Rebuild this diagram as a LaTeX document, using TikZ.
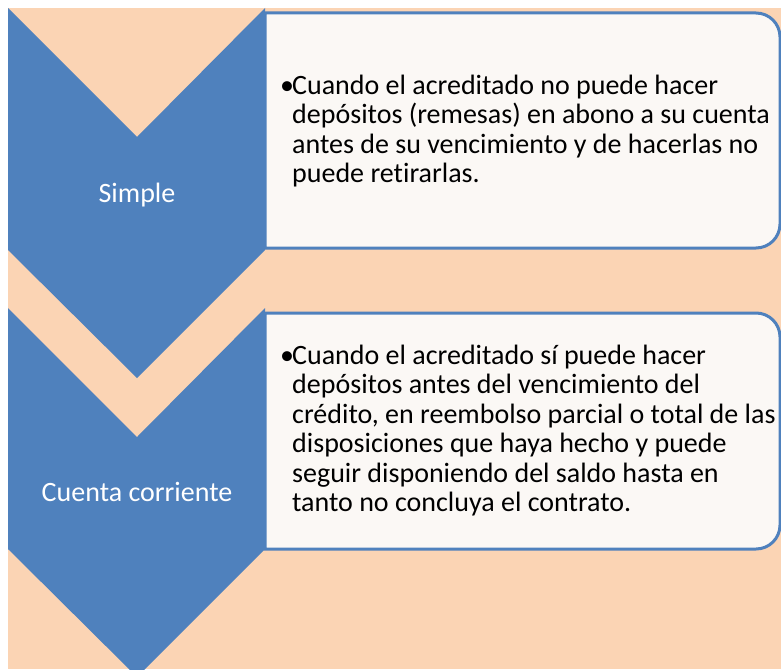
\documentclass[tikz,border=0pt]{standalone}
\usepackage{fontspec}
\setmainfont{Carlito}[Ligatures=NoCommon]
\usepackage{tikz}

\definecolor{chevblue}{HTML}{4F81BD}
\definecolor{peach}{HTML}{FBD4B4}
\definecolor{boxwhite}{HTML}{FBF8F5}

\tikzset{
	chevron/.style = {fill=chevblue},
	detailbox/.style = {fill=boxwhite, draw=chevblue, line width=3pt},
	chevlabel/.style = {text=white, font=\fontsize{28}{29.5}\selectfont, inner sep=0},
	detailtext/.style = {font=\fontsize{28}{29.5}\selectfont, align=left, inner sep=0, anchor=north west},
	bulletmark/.style = {font=\fontsize{28}{29.5}\selectfont, inner sep=0, anchor=base west}
}

\begin{document}
\begin{tikzpicture}[x=1pt,y=-1pt]
	\useasboundingbox (0,0) rectangle (781,669);
	\clip (0,0) rectangle (781,669);
	%peach background
	\fill[peach] (8,8) rectangle (781,669);
	
	%the first box
	\filldraw[detailbox] (265,13) -- (756,13) arc[start angle=-90,end angle=0,radius=24] -- (780,224) arc[start angle=0,end angle=90,radius=24] -- (265,248) -- cycle;
	
	%the second box
	\filldraw[detailbox] (265,313) -- (756,313) arc[start angle=-90,end angle=0,radius=24] -- (780,525) arc[start angle=0,end angle=90,radius=24] -- (265,549) -- cycle;
	
	%the chevrons
	\fill[chevron] (8,8) -- (137,137) -- (265,8) -- (265,250) -- (137,378) -- (8,250) -- cycle;
	\fill[chevron] (8,308) -- (137,437) -- (265,308) -- (265,549) -- (137,677) -- (8,549) -- cycle;
	
	%chevron labels
	\node[chevlabel] (simple) at (137,195) {Simple};
	\node[chevlabel] (corriente) at (137,492) {Cuenta corriente};
	
	%text of the first box
	\node[bulletmark] (bul1) at (280,94) {\textbullet};
	\node[detailtext] (txt1) at (292,74.5) {Cuando el acreditado no puede hacer\\depósitos (remesas) en abono a su cuenta\\antes de su vencimiento y de hacerlas no\\puede retirarlas.};
	
	%text of the second box
	\node[bulletmark] (bul2) at (280,364) {\textbullet};
	\node[detailtext] (txt2) at (292,344.5) {Cuando el acreditado sí puede hacer\\depósitos antes del vencimiento del\\crédito, en reembolso parcial o total de las\\disposiciones que haya hecho y puede\\seguir disponiendo del saldo hasta en\\tanto no concluya el contrato.};
\end{tikzpicture}
\end{document}
